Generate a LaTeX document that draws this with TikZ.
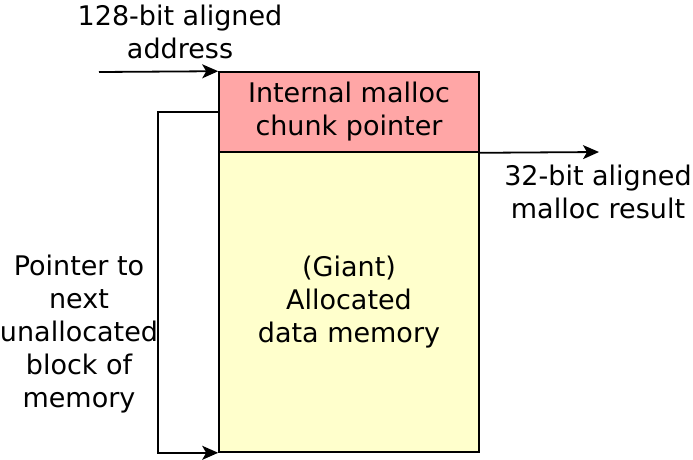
\documentclass[tikz,border=0pt]{standalone}
\usepackage{fontspec}
\setmainfont{DejaVu Sans}
\usetikzlibrary{arrows.meta,positioning}
\definecolor{chunkpink}{RGB}{255,166,166}
\definecolor{datayellow}{RGB}{255,255,204}

\begin{document}
\begin{tikzpicture}[x=1pt,y=-1pt,
    font=\fontsize{27}{33}\selectfont,
    memblock/.style={draw, line width=1.6pt, minimum width=260pt, align=center, inner sep=0pt},
    pointer/.style={line width=1.8pt, -{Stealth[length=16pt,width=14pt,inset=4pt]}},
    lbl/.style={align=center, inner sep=0pt}]
    \useasboundingbox (0,0) rectangle (693,459);

    % Memory blocks
    \node[memblock, fill=chunkpink, minimum height=80pt] (chunk) at (349,112) {Internal malloc\\chunk pointer};
    \node[memblock, fill=datayellow, minimum height=300pt] (data) at (349,302) {(Giant)\\Allocated\\data memory};

    % Labels
    \node[lbl] (addrlabel) at (180,32) {128-bit aligned\\address};
    \node[lbl] (resultlabel) at (598,192) {32-bit aligned\\malloc result};
    \node[lbl] (nextlabel) at (79,334) {Pointer to\\next\\unallocated\\block of\\memory};

    % Arrows
    \coordinate (addr) at (99,72);
    \coordinate (result) at (599,152);
    \draw[pointer] (addr) -- (chunk.north west);
    \draw[pointer] (chunk.south east) -- (result);
    \draw[pointer] (chunk.west) -- ++(-60,0) |- (data.south west);
\end{tikzpicture}
\end{document}
